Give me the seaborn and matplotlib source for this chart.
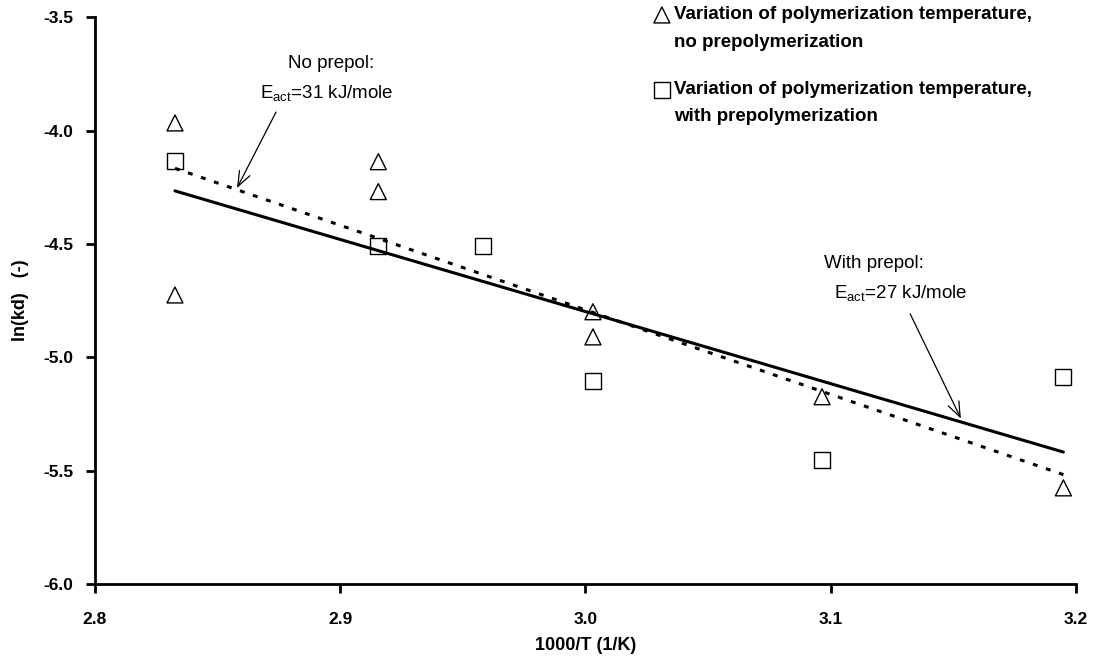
import matplotlib
matplotlib.use("Agg")
import matplotlib.pyplot as plt
import seaborn as sns

# 1000/T (1/K) and ln(kd) of the deactivation runs
inv_t_no_prepol = [2.8327, 2.8327, 2.9156, 2.9156, 3.0031, 3.0031, 3.0965, 3.1949]
ln_kd_no_prepol = [-3.966, -4.725, -4.137, -4.269, -4.799, -4.910, -5.174, -5.576]

inv_t_with_prepol = [2.8327, 2.9156, 2.9583, 3.0031, 3.0965, 3.1949]
ln_kd_with_prepol = [-4.134, -4.508, -4.508, -5.104, -5.453, -5.085]

series_labels = [
    ["Variation of polymerization temperature,", "no prepolymerization"],
    ["Variation of polymerization temperature,", "with prepolymerization"],
]
fit_labels = [
    ["No prepol:", r"E$_{\mathrm{act}}$=31 kJ/mole"],
    ["With prepol:", r"E$_{\mathrm{act}}$=27 kJ/mole"],
]
x_ticks = [2.8, 2.9, 3.0, 3.1, 3.2]
y_ticks = [-6.0, -5.5, -5.0, -4.5, -4.0, -3.5]

sns.set_theme(style="ticks")
plt.rcParams.update({
    "font.family": ["Liberation Sans", "DejaVu Sans"],
    "axes.unicode_minus": False,
    "mathtext.fontset": "custom",
    "mathtext.rm": "Liberation Sans",
    "mathtext.it": "Liberation Sans:italic",
    "mathtext.bf": "Liberation Sans:bold",
    "text.color": "black",
    "axes.labelcolor": "black",
    "xtick.color": "black",
    "ytick.color": "black",
})

fig = plt.figure(figsize=(10.98, 6.6), dpi=100)
ax = fig.add_axes([0.0863, 0.1152, 0.8936, 0.8586])

marker_size = 132
# least-squares fits (dotted: no prepolymerization, solid: with prepolymerization)
sns.regplot(x=inv_t_no_prepol, y=ln_kd_no_prepol, scatter=False, ci=None,
            color="black", ax=ax,
            line_kws=dict(lw=2.2, linestyle=(0, (1.6, 2.9)), dash_capstyle="butt"))
sns.regplot(x=inv_t_with_prepol, y=ln_kd_with_prepol, scatter=False, ci=None,
            color="black", ax=ax, line_kws=dict(lw=2.2))

sns.scatterplot(x=inv_t_no_prepol, y=ln_kd_no_prepol, marker="^", s=marker_size,
                facecolor="none", edgecolor="black", linewidth=1.0, ax=ax, zorder=3)
sns.scatterplot(x=inv_t_with_prepol, y=ln_kd_with_prepol, marker="s", s=marker_size,
                facecolor="none", edgecolor="black", linewidth=1.0, ax=ax, zorder=3)

ax.set_xlim(2.8, 3.2)
ax.set_ylim(-6.0, -3.5)
ax.set_xticks(x_ticks)
ax.set_yticks(y_ticks)
ax.set_xticklabels([f"{v:.1f}" for v in x_ticks], fontweight="bold")
ax.set_yticklabels([f"{v:.1f}" for v in y_ticks], fontweight="bold")
ax.tick_params(axis="both", direction="out", length=6.5, width=2.0,
               color="black", labelsize=12.5, labelcolor="black")
ax.tick_params(axis="y", pad=9)
ax.tick_params(axis="x", pad=14)

sns.despine(ax=ax)
for side in ("left", "bottom"):
    ax.spines[side].set_linewidth(2.0)
    ax.spines[side].set_color("black")

ax.set_xlabel("1000/T (1/K)", fontsize=13, fontweight="bold", labelpad=7)
ax.set_ylabel("ln(kd)   (-)", fontsize=13, fontweight="bold", labelpad=10)

# activation-energy notes with arrows pointing at the fits
arrow_style = dict(arrowstyle="->,head_length=0.9,head_width=0.35",
                   lw=0.9, color="black", shrinkA=0, shrinkB=0)
ax.text(2.8964, -3.702, fit_labels[0][0], fontsize=13.5, ha="center", va="center")
ax.text(2.8947, -3.834, fit_labels[0][1], fontsize=13.5, ha="center", va="center")
ax.annotate("", xy=(2.858, -4.253), xytext=(2.8739, -3.918), arrowprops=arrow_style)

ax.text(3.1178, -4.585, fit_labels[1][0], fontsize=13.5, ha="center", va="center")
ax.text(3.1284, -4.717, fit_labels[1][1], fontsize=13.5, ha="center", va="center")
ax.annotate("", xy=(3.1531, -5.270), xytext=(3.1324, -4.808), arrowprops=arrow_style)

# key in the upper right corner
key_marker_x = 0.578
key_text_x = 0.5905
key_rows = [(1.0041, 0.9547), (0.8717, 0.8241)]
for (row_a, row_b), mk, lines in zip(key_rows, ["^", "s"], series_labels):
    ax.scatter([key_marker_x], [row_a], marker=mk, s=marker_size, facecolor="none",
               edgecolor="black", linewidth=1.0, transform=ax.transAxes, clip_on=False)
    ax.text(key_text_x, row_a, lines[0], transform=ax.transAxes, fontsize=13.5,
            fontweight="bold", ha="left", va="center")
    ax.text(key_text_x, row_b, lines[1], transform=ax.transAxes, fontsize=13.5,
            fontweight="bold", ha="left", va="center")

fig.savefig("out.png", dpi=100)
